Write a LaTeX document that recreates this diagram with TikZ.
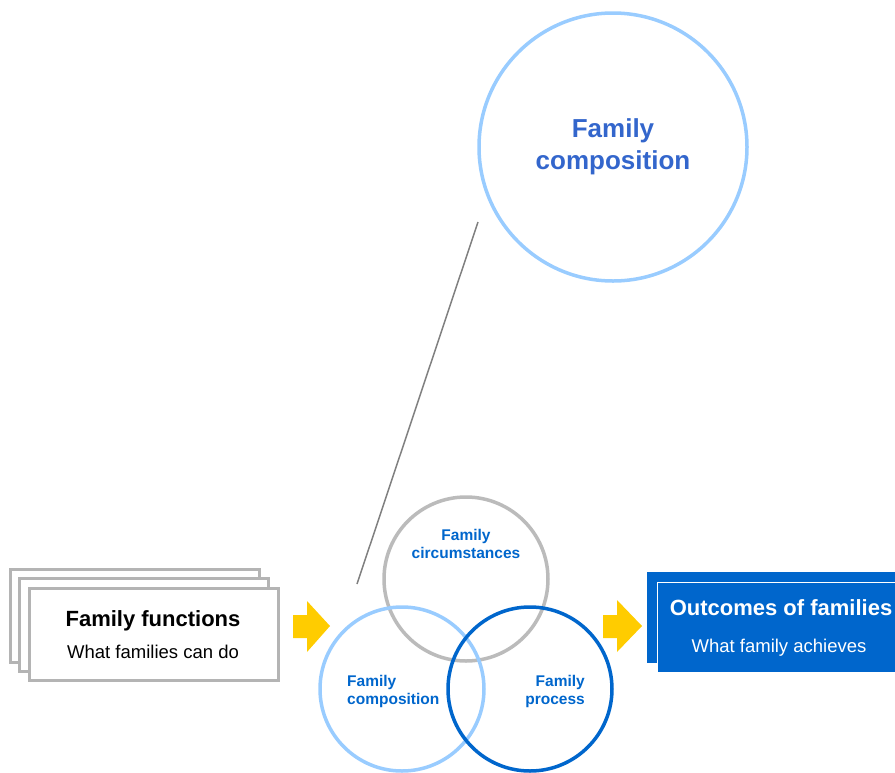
\documentclass[tikz,border=0pt]{standalone}
\usepackage{fontspec}
\setmainfont{Liberation Sans}
\definecolor{lblue}{HTML}{99CCFF}
\definecolor{dblue}{HTML}{0066CC}
\definecolor{tblue}{HTML}{3366CC}
\definecolor{gcirc}{HTML}{BBBBBB}
\definecolor{gbox}{HTML}{B4B4B4}
\definecolor{arrowy}{HTML}{FFCC00}
\tikzset{
  ring/.style={circle, draw, line width=3.5pt, minimum size=#1, inner sep=0pt},
  graybox/.style={draw=gbox, line width=3pt, fill=white},
  bluebox/.style={fill=dblue},
  bigtxt/.style={font=\fontsize{26}{32}\selectfont\bfseries, text=tblue, align=center},
  venntxt/.style={font=\fontsize{15.5}{19}\selectfont\bfseries, text=dblue, inner sep=0pt},
  headtxt/.style={font=\fontsize{22}{26}\selectfont\bfseries, inner sep=0pt, anchor=base},
  subtxt/.style={font=\fontsize{18.5}{22}\selectfont, inner sep=0pt, anchor=base},
  yarrow/.style={fill=arrowy},
}
\begin{document}
\begin{tikzpicture}[x=1pt,y=-1pt]
\useasboundingbox (0,0) rectangle (895,772);
% big circle
\node[ring=268pt, draw=lblue] (big) at (613,147) {};
\node[bigtxt] (bigt) at (613,147) {Family\\composition};
% pointer line
\coordinate (lt) at (478,222);
\coordinate (lb) at (357,584);
\draw[draw=gray, line width=1.5pt] (lt) -- (lb);
% left stacked boxes
\draw[graybox] (10,569) rectangle (259,662);
\draw[graybox] (19,578) rectangle (268,671);
\draw[graybox] (29,588) rectangle (278,680);
\node[headtxt] (ff) at (153,626) {Family functions};
\node[subtxt] (fw) at (153,658) {What families can do};
% yellow arrows
\fill[yarrow] (293,615) -- (307,615) -- (307,601) -- (330,626) -- (307,652) -- (307,638) -- (293,638) -- cycle;
\fill[yarrow] (603,615) -- (617,615) -- (617,600) -- (642,626) -- (617,652) -- (617,638) -- (603,638) -- cycle;
% venn
\node[ring=164pt, draw=gcirc] (vc) at (466,579) {};
\node[ring=164pt, draw=lblue] (vl) at (402,689) {};
\node[ring=164pt, draw=dblue] (vr) at (530,689) {};
\node[venntxt, anchor=base] (t1) at (466,540) {Family};
\node[venntxt, anchor=base] (t2) at (466,558) {circumstances};
\node[venntxt, anchor=base west] (t3) at (347,686) {Family};
\node[venntxt, anchor=base west] (t4) at (347,704) {composition};
\node[venntxt, anchor=base east] (t5) at (585,686) {Family};
\node[venntxt, anchor=base east] (t6) at (585,704) {process};
% right box
\fill[bluebox] (647,572) rectangle (900,663);
\draw[bluebox, draw=white, line width=1pt] (657,582) rectangle (900,672);
\node[headtxt, text=white] (oh) at (781,615) {Outcomes of families};
\node[subtxt, text=white] (ow) at (779,652) {What family achieves};
\end{tikzpicture}
\end{document}
